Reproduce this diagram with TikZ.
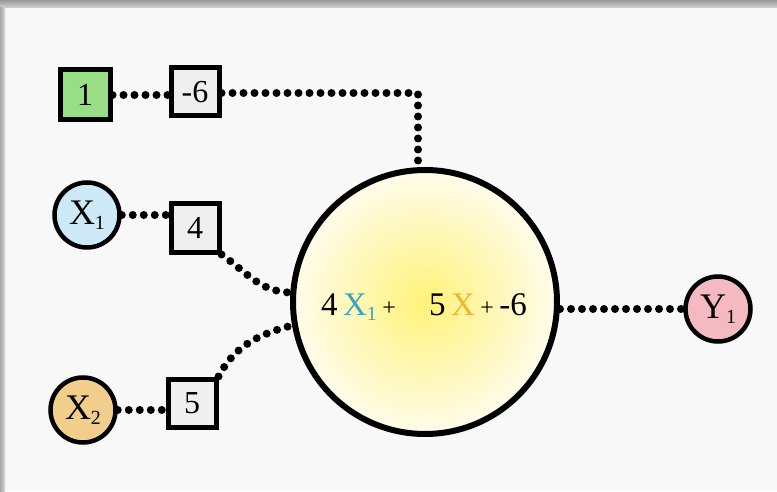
\documentclass[tikz,border=0pt]{standalone}
\usepackage{fontspec}
\setmainfont{Liberation Serif}
\definecolor{bgwhite}{HTML}{F8F8F8}
\definecolor{biasgreen}{HTML}{98DE86}
\definecolor{boxgray}{HTML}{EFEFEF}
\definecolor{inblue}{HTML}{CDE9F8}
\definecolor{inorange}{HTML}{F2CE8C}
\definecolor{outpink}{HTML}{F5B9C2}
\definecolor{coreyellow}{HTML}{FFF27A}
\definecolor{rimcream}{HTML}{FFFCEB}
\definecolor{xteal}{HTML}{38A5C6}
\definecolor{xgold}{HTML}{F0B531}
\newcommand{\lowidx}[1]{\raisebox{-0.3ex}{\fontsize{20}{20}\selectfont #1}}
\usetikzlibrary{calc}

\begin{document}
\begin{tikzpicture}[x=1pt, y=1pt,
  weight/.style={draw, line width=5pt, fill=boxgray, minimum size=48pt, inner sep=0pt,
    font=\fontsize{32}{32}\selectfont},
  feature/.style={draw, circle, line width=4.5pt, minimum size=65pt, inner sep=0pt,
    font=\fontsize{36}{36}\selectfont},
  dotline/.style={line width=8pt, line cap=round, dash pattern=on 0pt off 11pt}]
  \useasboundingbox (0,0) rectangle (777,491);
  \fill[bgwhite] (0,0) rectangle (777,491);
  \shade[top color=gray!80, bottom color=gray!35] (0,483) rectangle (777,491);
  \shade[left color=gray!70, right color=gray!30] (0,0) rectangle (5,483);

  % neuron and its inputs
  \node[draw, circle, line width=6pt, minimum size=264pt, inner sep=0pt,
    inner color=coreyellow, outer color=rimcream] (neuron) at (425,189) {};
  \node[font=\fontsize{33}{33}\selectfont] (eq) at (424,184)
    {4\,\textcolor{xteal}{X\lowidx{1}}\,{\fontsize{24}{24}\selectfont+}\quad5\,\textcolor{xgold}{X}\,{\fontsize{24}{24}\selectfont+}\,-6};

  \node[weight, fill=biasgreen, minimum size=50pt] (bias) at (85,396) {1};
  \node[weight] (w0) at (195,399) {-6};
  \node[feature, fill=inblue] (x1) at (87,276) {X\lowidx{1}};
  \node[weight] (w1) at (195,263) {4};
  \node[feature, fill=inorange] (x2) at (83,81) {X\lowidx{2}};
  \node[weight] (w2) at (192,88) {5};
  \node[feature, fill=outpink] (y1) at (718,182) {Y\lowidx{1}};
  \coordinate (bend) at (418,398);

  \draw[dotline] (bias.east) -- (bias.east -| w0.west);
  \draw[dotline] (w0.east |- bend) -- (bend) -- (bend |- neuron.north);
  \draw[dotline] (x1.east) -- (x1.east -| w1.west);
  \draw[dotline] (w1.south east) to[out=-35, in=178] (neuron.176);
  \draw[dotline] (x2.east) -- (x2.east -| w2.west);
  \draw[dotline] (w2.north east) to[out=62, in=195] (neuron.190);
  \draw[dotline] (y1.west -| neuron.east) -- (y1.west);
\end{tikzpicture}
\end{document}
